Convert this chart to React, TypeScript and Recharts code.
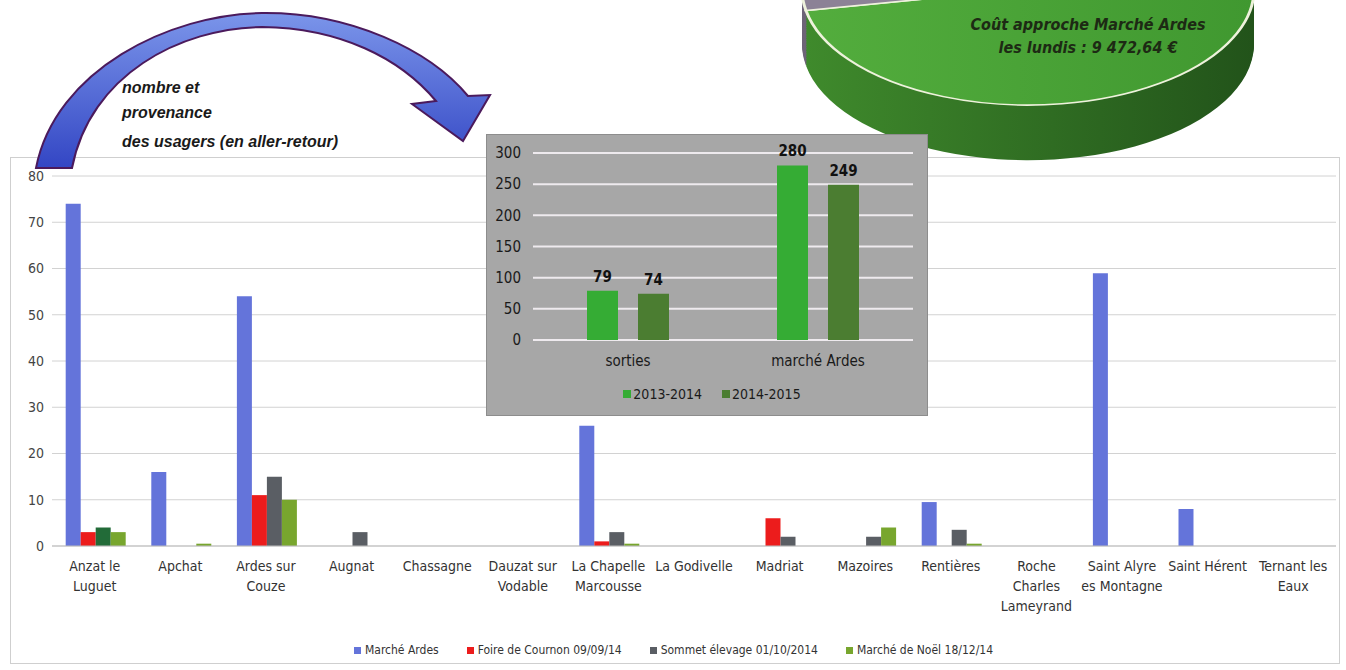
import React from 'react'
import { BarChart, Bar, XAxis, YAxis, CartesianGrid, Legend, LabelList, PieChart, Pie, Cell } from 'recharts'

// main chart: usagers per commune
const categories = [
  'Anzat le Luguet', 'Apchat', 'Ardes sur Couze', 'Augnat', 'Chassagne',
  'Dauzat sur Vodable', 'La Chapelle Marcousse', 'La Godivelle', 'Madriat', 'Mazoires',
  'Rentières', 'Roche Charles Lameyrand', 'Saint Alyre es Montagne', 'Saint Hérent', 'Ternant les Eaux'
]
const marcheArdes = [74, 16, 54, 0, 0, 0, 26, 0, 0, 0, 9.5, 0, 59, 8, 0]
const foireCournon = [3, 0, 11, 0, 0, 0, 1, 0, 6, 0, 0, 0, 0, 0, 0]
const sommetElevage = [4, 0, 15, 3, 0, 0, 3, 0, 2, 2, 3.5, 0, 0, 0, 0]
const marcheNoel = [3, 0.5, 10, 0, 0, 0, 0.5, 0, 0, 4, 0.5, 0, 0, 0, 0]
const yTicks = [0, 10, 20, 30, 40, 50, 60, 70, 80]

const seriesNames = ['Marché Ardes', 'Foire de Cournon 09/09/14', 'Sommet élevage 01/10/2014', 'Marché de Noël 18/12/14']
const seriesKeys = ['marche', 'foire', 'sommet', 'noel']
const seriesColors = ['#6474da', '#ec1c1c', '#5a5e64', '#78a62e']

// inset chart: sorties vs marché
const periodes = ['sorties', 'marché Ardes']
const saison1314 = [79, 280]
const saison1415 = [74, 249]
const insetTicks = [0, 50, 100, 150, 200, 250, 300]
const insetNames = ['2013-2014', '2014-2015']
const insetColors = ['#35ac34', '#4b7d31']

// cost pie (cut off at the top of the page)
const pieNames = ['Coût approche Marché Ardes les lundis', 'Autres coûts']
const pieValues = [9472.64, 5400]

const NARROW = "'Liberation Sans Narrow', 'Arial Narrow', 'DejaVu Sans Condensed', sans-serif"
const SANS = "'Liberation Sans', Arial, sans-serif"

const mainData = categories.map((name, i) => ({
  name,
  marche: marcheArdes[i],
  foire: foireCournon[i],
  sommet: sommetElevage[i],
  noel: marcheNoel[i]
}))

const insetData = periodes.map((name, i) => ({ name, a: saison1314[i], b: saison1415[i] }))
const pieData = pieNames.map((name, i) => ({ name, value: pieValues[i] }))

// wrap a category name into lines of max 12 chars
function wrapLabel(text: string, max = 12) {
  const words = text.split(' ')
  const lines: string[] = []
  let cur = ''
  words.forEach(w => {
    const next = cur ? cur + ' ' + w : w
    if (next.length > max && cur) {
      lines.push(cur)
      cur = w
    } else {
      cur = next
    }
  })
  if (cur) lines.push(cur)
  return lines
}

const CategoryTick = (props: any) => {
  const { x, y, payload } = props
  const lines = wrapLabel(payload.value)
  return (
    <text x={x} y={y} textAnchor="middle" fill="#333" fontSize={14} fontFamily={NARROW}>
      {lines.map((l, i) => (
        <tspan key={i} x={x} dy={i === 0 ? 17 : 20}>{l}</tspan>
      ))}
    </text>
  )
}

const MainLegend = () => (
  <div style={{ display: 'flex', justifyContent: 'center', gap: 28, fontFamily: NARROW, fontSize: 12, color: '#333' }}>
    {seriesNames.map((n, i) => (
      <span key={n} style={{ display: 'flex', alignItems: 'center' }}>
        <span style={{ width: 7, height: 7, background: seriesColors[i], marginRight: 4, display: 'inline-block' }} />
        {n}
      </span>
    ))}
  </div>
)

const InsetLegend = () => (
  <div style={{ display: 'flex', justifyContent: 'center', gap: 20, paddingLeft: 24, fontFamily: NARROW, fontSize: 14, color: '#1a1a1a' }}>
    {insetNames.map((n, i) => (
      <span key={n} style={{ display: 'flex', alignItems: 'center' }}>
        <span style={{ width: 8, height: 8, background: insetColors[i], marginRight: 2, display: 'inline-block' }} />
        {n}
      </span>
    ))}
  </div>
)

function CurvedArrow() {
  return (
    <svg width={520} height={190} style={{ position: 'absolute', left: 0, top: 0 }}>
      <defs>
        <linearGradient id="arrowFill" x1="0" y1="0" x2="0" y2="1">
          <stop offset="0%" stopColor="#7b95ea" />
          <stop offset="100%" stopColor="#3346c4" />
        </linearGradient>
      </defs>
      <path
        d="M 36 168 C 55 70, 170 14, 262 13 C 350 12, 430 50, 468 96 L 490 95 L 463 141 L 412 104 L 436 101 C 400 58, 340 28, 262 27 C 180 28, 90 75, 72 168 Z"
        fill="url(#arrowFill)"
        stroke="#4b1a5c"
        strokeWidth={2}
      />
    </svg>
  )
}

const SCALE_Y = 0.514
const PIE_TOP = -100
const PIE_CY = 168
const depthLayers = Array.from({ length: 32 }, (_, i) => 32 - i)

function CostPie() {
  return (
    <div style={{ position: 'absolute', left: 773, top: PIE_TOP, width: 500, height: 520, transform: `scaleY(${SCALE_Y})`, transformOrigin: 'top left' }}>
      <PieChart width={500} height={520}>
        <defs>
          <linearGradient id="sideGreen" x1="0" y1="0" x2="1" y2="0">
            <stop offset="0%" stopColor="#3f8a2c" />
            <stop offset="55%" stopColor="#2f6c22" />
            <stop offset="100%" stopColor="#22531a" />
          </linearGradient>
          <linearGradient id="topGreen" x1="0" y1="0" x2="1" y2="0">
            <stop offset="0%" stopColor="#53ad3d" />
            <stop offset="100%" stopColor="#409830" />
          </linearGradient>
        </defs>
        {depthLayers.map(k => (
          <Pie key={k} data={pieData} dataKey="value" cx={250} cy={PIE_CY + k * 3.35} outerRadius={226}
            startAngle={60} endAngle={-300} stroke="none" isAnimationActive={false}>
            {pieData.map((d, i) => <Cell key={i} fill={i === 0 ? 'url(#sideGreen)' : '#6e6478'} />)}
          </Pie>
        ))}
        <Pie data={pieData} dataKey="value" cx={250} cy={PIE_CY} outerRadius={226}
          startAngle={60} endAngle={-300} stroke="#eef2dc" strokeWidth={3} isAnimationActive={false}>
          {pieData.map((d, i) => <Cell key={i} fill={i === 0 ? 'url(#topGreen)' : '#8c8296'} />)}
        </Pie>
      </PieChart>
    </div>
  )
}

export default function App() {
  const euro = pieValues[0].toLocaleString('fr-FR', { minimumFractionDigits: 2 }).replace(/\u202f|\u00a0/g, ' ')
  return (
    <div style={{ position: 'absolute', left: 0, top: 0, width: 1346, height: 670, overflow: 'hidden', background: '#fff' }}>
      {/* main chart box */}
      <div style={{ position: 'absolute', left: 10, top: 157, width: 1330, height: 507, border: '1px solid #cfcfcf', boxSizing: 'border-box' }}>
        <BarChart width={1328} height={505} data={mainData} barCategoryGap="16%" barGap={0}
          margin={{ top: 18, right: 3, left: 0, bottom: 6 }}>
          <CartesianGrid vertical={false} stroke="#d2d2d2" />
          <XAxis dataKey="name" interval={0} height={97} tick={<CategoryTick />} tickLine={false} axisLine={{ stroke: '#bdbdbd' }} />
          <YAxis domain={[0, 80]} ticks={yTicks} width={41} tickLine={false} axisLine={false}
            tick={{ fill: '#444', fontSize: 14, fontFamily: NARROW }} />
          <Legend verticalAlign="bottom" content={<MainLegend />} />
          {seriesKeys.map((k, i) => (
            <Bar key={k} dataKey={k} name={seriesNames[i]} fill={seriesColors[i]} isAnimationActive={false}>
              {k === 'sommet' && sommetElevage.map((v, j) => <Cell key={j} fill={j === 0 ? '#226b38' : seriesColors[i]} />)}
            </Bar>
          ))}
        </BarChart>
      </div>

      <CostPie />
      <div style={{ position: 'absolute', left: 958, top: 13, width: 260, textAlign: 'center', fontFamily: NARROW, fontWeight: 'bold', fontStyle: 'italic', fontSize: 16, lineHeight: '23px', color: '#1d2a14' }}>
        <div>Coût approche Marché Ardes</div>
        <div>les lundis : {euro} €</div>
      </div>

      <CurvedArrow />
      <div style={{ position: 'absolute', left: 122, top: 79, fontFamily: SANS, fontWeight: 'bold', fontStyle: 'italic', fontSize: 16, color: '#1a1a1a' }}>
        <div style={{ height: 25 }}>nombre et</div>
        <div style={{ height: 29 }}>provenance</div>
        <div>des usagers (en aller-retour)</div>
      </div>

      {/* inset chart */}
      <div style={{ position: 'absolute', left: 486, top: 134, width: 442, height: 282, background: '#a7a7a7', border: '1px solid #8d8d8d', boxSizing: 'border-box' }}>
        <BarChart width={440} height={280} data={insetData} barSize={31} barGap={20}
          margin={{ top: 18, right: 14, left: 0, bottom: 13 }}>
          <CartesianGrid vertical={false} stroke="#eeeaee" strokeWidth={2} />
          <XAxis dataKey="name" tickLine={false} axisLine={false} height={46} tickMargin={9}
            tick={{ fill: '#1a1a1a', fontSize: 15, fontFamily: NARROW }} />
          <YAxis domain={[0, 300]} ticks={insetTicks} width={46} tickLine={false} axisLine={false} tickMargin={6}
            tick={{ fill: '#1a1a1a', fontSize: 15, fontFamily: NARROW }} />
          <Legend verticalAlign="bottom" content={<InsetLegend />} />
          <Bar dataKey="a" name={insetNames[0]} fill={insetColors[0]} isAnimationActive={false}>
            <LabelList dataKey="a" position="top" offset={9} fill="#111" fontSize={15} fontWeight="bold" fontFamily={NARROW} />
          </Bar>
          <Bar dataKey="b" name={insetNames[1]} fill={insetColors[1]} isAnimationActive={false}>
            <LabelList dataKey="b" position="top" offset={9} fill="#111" fontSize={15} fontWeight="bold" fontFamily={NARROW} />
          </Bar>
        </BarChart>
      </div>
    </div>
  )
}
